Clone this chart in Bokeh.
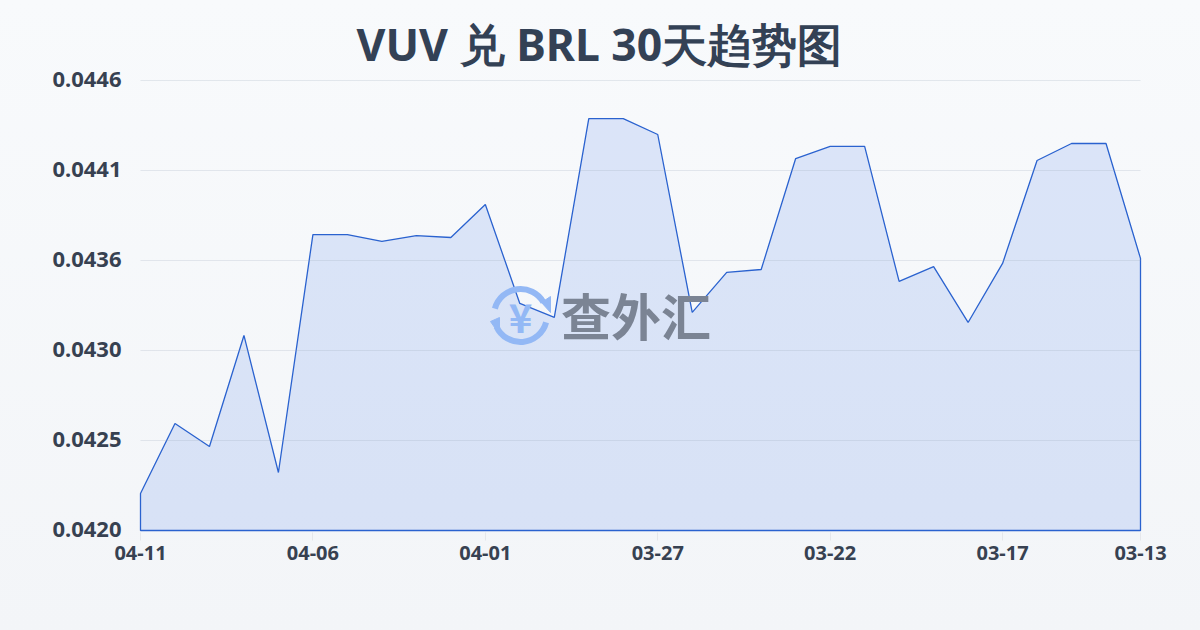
from bokeh.plotting import figure
from bokeh.embed import file_html
from bokeh.resources import INLINE
from bokeh.models import Range1d, LinearAxis, FixedTicker, Label, Title
import math

TITLE = "VUV 兑 BRL 30天趋势图"
WATERMARK = "查外汇"
date_labels = ["04-11", "04-06", "04-01", "03-27", "03-22", "03-17", "03-13"]
date_positions = [0, 5, 10, 15, 20, 25, 29]
y_ticks = [0.042, 0.04252, 0.04304, 0.04356, 0.04408, 0.0446]
y_labels = ["0.0420", "0.0425", "0.0430", "0.0436", "0.0441", "0.0446"]
rates = [0.042214, 0.042618, 0.042485, 0.043127, 0.042335, 0.043710, 0.043710, 0.043670,
         0.043704, 0.043693, 0.043884, 0.043312, 0.043231, 0.044380, 0.044380, 0.044288,
         0.043260, 0.043491, 0.043508, 0.044149, 0.044219, 0.044219, 0.043439, 0.043525,
         0.043202, 0.043543, 0.044138, 0.044236, 0.044236, 0.043572]
days = list(range(len(rates)))
y_min, y_max = y_ticks[0], y_ticks[-1]

# frame is 2px larger than the data area on each side so edge strokes are not clipped
pad = 2
dx = (days[-1] - days[0]) / 1000 * pad
dy = (y_max - y_min) / 450 * pad

p = figure(width=1200, height=630, output_backend="svg", toolbar_location=None,
           x_range=Range1d(days[0] - dx, days[-1] + dx), y_range=Range1d(y_min - dy, y_max + dy),
           min_border_left=138, min_border_right=58, min_border_top=78, min_border_bottom=98,
           x_axis_location=None, y_axis_location=None)
p.background_fill_color = None
p.border_fill_color = None
p.outline_line_color = None

p.add_layout(Title(text=TITLE, text_font="Noto Sans", text_font_size="44.5px",
                   text_font_style="bold", text_color="#334155", align="left",
                   offset=218, standoff=9), "above")

# y labels sit 1.5px above their gridlines, as in the reference
label_ticks = [t + 0.75 * dy for t in y_ticks]
xa = LinearAxis(ticker=FixedTicker(ticks=date_positions),
                major_label_overrides=dict(zip(date_positions, date_labels)))
ya = LinearAxis(ticker=FixedTicker(ticks=label_ticks),
                major_label_overrides=dict(zip(label_ticks, y_labels)))
for a in (xa, ya):
    a.axis_line_color = None
    a.minor_tick_line_color = None
    a.major_label_text_font = "Noto Sans"
    a.major_label_text_font_style = "bold"
    a.major_label_text_color = "#374151"
xa.major_tick_line_color = "#e5e7eb"
xa.major_tick_in = 0
xa.major_tick_out = 8
xa.major_label_standoff = 5
xa.major_label_text_font_size = "20px"
ya.major_tick_line_color = None
ya.major_tick_in = 0
ya.major_tick_out = 0
ya.major_label_standoff = 17
ya.major_label_text_font_size = "22px"
p.add_layout(xa, "below")
p.add_layout(ya, "left")

p.xgrid.grid_line_color = None
p.ygrid.grid_line_color = None
p.segment(x0=[days[0]] * 5, x1=[days[-1]] * 5, y0=y_ticks[1:], y1=y_ticks[1:],
          line_color="#94a3b8", line_alpha=0.22, line_width=1, level="overlay")

xs = [days[0]] + days + [days[-1]]
ys = [y_min] + rates + [y_min]
p.patch(xs, ys, fill_color="#2563eb", fill_alpha=0.135, line_color="#2a62cf", line_width=1.3)

# watermark drawn in page pixels
p.extra_x_ranges["px"] = Range1d(138, 1142)
p.extra_y_ranges["px"] = Range1d(532, 78)
icon = "#93b8f5"
cx, cy = 520, 315
p.arc(x=[cx, cx], y=[cy, cy], radius=26.5, radius_units="screen",
      start_angle=[math.radians(30), math.radians(205)],
      end_angle=[math.radians(165), math.radians(345)],
      direction="anticlock",
      line_color=icon, line_width=6, x_range_name="px", y_range_name="px", level="overlay")
p.patch([541, 550, 550], [302, 296, 312], fill_color=icon, line_color=icon,
        x_range_name="px", y_range_name="px", level="overlay")
p.patch([490, 499, 499], [321, 317, 334], fill_color=icon, line_color=icon,
        x_range_name="px", y_range_name="px", level="overlay")
for lb in (
    Label(x=520, y=315, text="¥", text_font_size="40px", text_color=icon, text_font_style="bold",
          text_font="Noto Sans CJK SC", text_align="center", text_baseline="middle",
          x_range_name="px", y_range_name="px"),
    Label(x=635.5, y=313, text=WATERMARK, text_font_size="50px", text_color="#7b8494",
          text_font_style="bold", text_font="Noto Sans CJK SC", text_align="center",
          text_baseline="middle", x_range_name="px", y_range_name="px"),
):
    p.add_layout(lb)

html = file_html(p, INLINE)
html = html.replace("</head>", "<style>html,body{margin:0;padding:0;height:630px;overflow:hidden;"
                    "background:linear-gradient(180deg,#f8fafc 0%,#f3f5f8 100%);}</style></head>", 1)
open("out.html", "w").write(html)
